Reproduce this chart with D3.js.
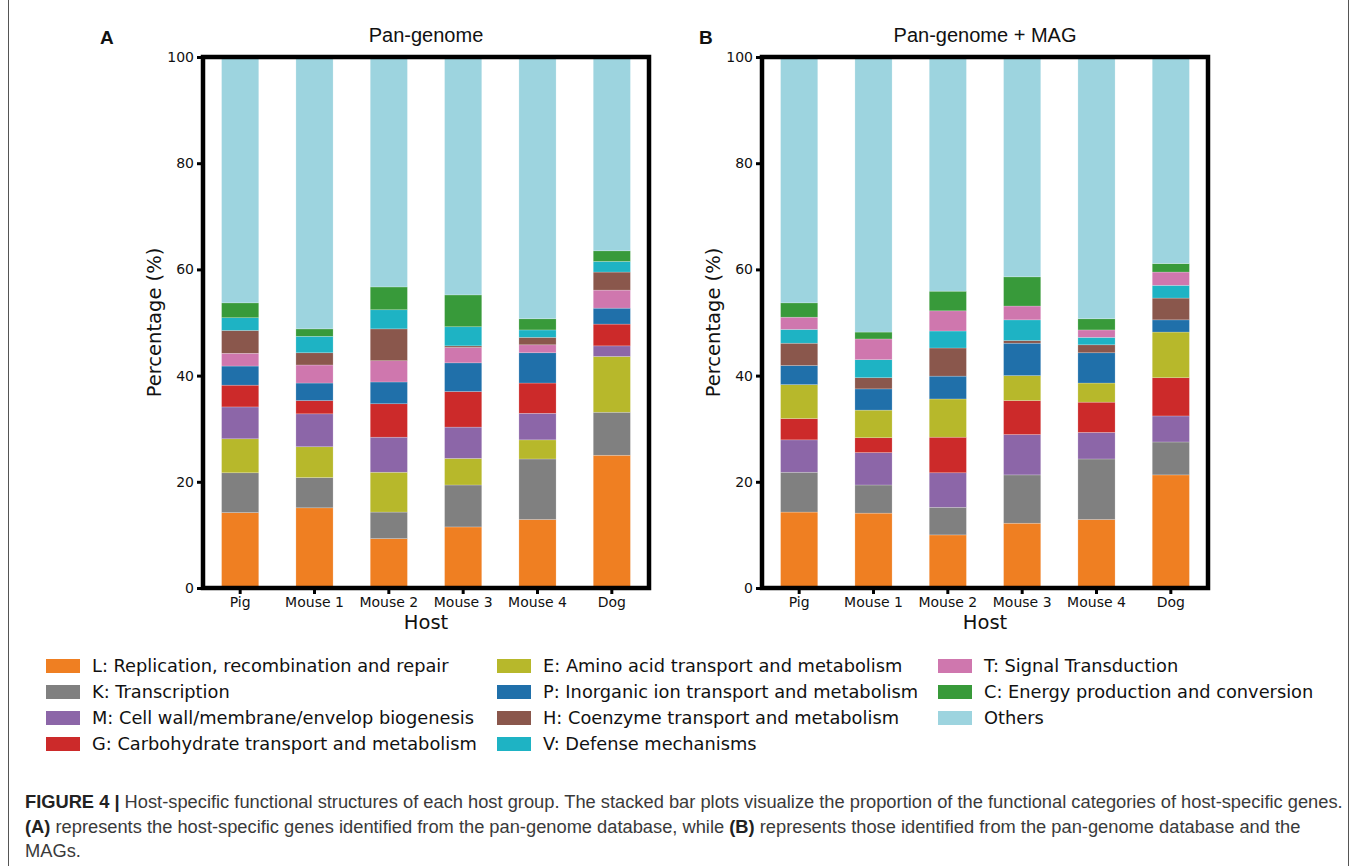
<!DOCTYPE html>
<html>
<head>
<meta charset="utf-8">
<script src="https://cdn.jsdelivr.net/npm/d3@7"></script>
<style>
  body { margin: 0; background: #fff; }
  svg { display: block; }
  .tick-label { font-family: "DejaVu Sans", sans-serif; font-size: 14px; fill: #111; }
  .axis-title { font-family: "DejaVu Sans", sans-serif; font-size: 19.5px; fill: #111; }
  .legend-text { font-family: "DejaVu Sans", sans-serif; font-size: 17.8px; fill: #111; }
  .caption { font-family: "Liberation Sans", Arial, sans-serif; font-size: 18.3px; fill: #3a3a3a; }
</style>
</head>
<body>
<div id="chart"></div>
<script>
// Host groups (x axis)
const hosts = ['Pig', 'Mouse 1', 'Mouse 2', 'Mouse 3', 'Mouse 4', 'Dog'];

// COG categories in legend order
const categories = ['L', 'K', 'M', 'G', 'E', 'P', 'H', 'V', 'T', 'C', 'Others'];
const categoryLabels = [
    'L: Replication, recombination and repair',
    'K: Transcription',
    'M: Cell wall/membrane/envelop biogenesis',
    'G: Carbohydrate transport and metabolism',
    'E: Amino acid transport and metabolism',
    'P: Inorganic ion transport and metabolism',
    'H: Coenzyme transport and metabolism',
    'V: Defense mechanisms',
    'T: Signal Transduction',
    'C: Energy production and conversion',
    'Others'
];
const categoryColors = [
    '#ef7f22', '#808080', '#8c66a8', '#cc2a2a', '#b7b82b',
    '#2070aa', '#8a574c', '#1eb3c4', '#cf77ae', '#389a3a', '#9dd4df'
];

// stacking order (bottom to top) differs between the two panels
const stackOrderA = ['L', 'K', 'E', 'M', 'G', 'P', 'T', 'H', 'V', 'C', 'Others'];
const stackOrderB = ['L', 'K', 'M', 'G', 'E', 'P', 'H', 'V', 'T', 'C', 'Others'];

// Panel A: pan-genome (percent per host, order = hosts)
const panL = [14.2, 15.1, 9.3, 11.5, 12.9, 25.0];
const panK = [7.5, 5.7, 5.0, 7.9, 11.4, 8.1];
const panE = [6.4, 5.8, 7.5, 5.0, 3.6, 10.5];
const panM = [6.0, 6.2, 6.6, 5.9, 5.0, 2.0];
const panG = [4.1, 2.5, 6.3, 6.7, 5.7, 4.1];
const panP = [3.6, 3.3, 4.1, 5.4, 5.7, 3.0];
const panT = [2.4, 3.4, 4.0, 2.9, 1.5, 3.4];
const panH = [4.3, 2.3, 6.0, 0.3, 1.4, 3.4];
const panV = [2.4, 3.1, 3.6, 3.6, 1.4, 2.0];
const panC = [2.8, 1.4, 4.3, 6.0, 2.1, 2.0];
const panOthers = [46.3, 51.2, 43.3, 44.8, 49.3, 36.5];

// Panel B: pan-genome + MAG
const magL = [14.3, 14.1, 10.0, 12.2, 12.9, 21.3];
const magK = [7.5, 5.3, 5.2, 9.1, 11.4, 6.2];
const magM = [6.1, 6.1, 6.5, 7.6, 5.0, 4.9];
const magG = [4.0, 2.8, 6.7, 6.4, 5.7, 7.2];
const magE = [6.4, 5.2, 7.2, 4.7, 3.6, 8.6];
const magP = [3.6, 4.0, 4.3, 6.1, 5.7, 2.3];
const magH = [4.2, 2.1, 5.3, 0.5, 1.5, 4.1];
const magV = [2.6, 3.4, 3.2, 3.9, 1.4, 2.4];
const magT = [2.3, 3.9, 3.8, 2.6, 1.4, 2.5];
const magC = [2.7, 1.3, 3.7, 5.5, 2.1, 1.6];
const magOthers = [46.3, 51.8, 44.1, 41.4, 49.3, 38.9];

const yTicks = [0, 20, 40, 60, 80, 100];

function buildRows(series) {
    return hosts.map((h, i) => {
        const row = { host: h };
        categories.forEach(c => { row[c] = series[c][i]; });
        return row;
    });
}

const rowsA = buildRows({ L: panL, K: panK, M: panM, G: panG, E: panE, P: panP,
    H: panH, V: panV, T: panT, C: panC, Others: panOthers });
const rowsB = buildRows({ L: magL, K: magK, M: magM, G: magG, E: magE, P: magP,
    H: magH, V: magV, T: magT, C: magC, Others: magOthers });

const color = d3.scaleOrdinal().domain(categories).range(categoryColors);

const W = 1357, H = 866;
const svg = d3.select('#chart').append('svg')
    .attr('width', W)
    .attr('height', H);

// figure box border
svg.append('rect')
    .attr('x', 8.5).attr('y', -5)
    .attr('width', 1340).attr('height', H + 10)
    .attr('fill', 'none')
    .attr('stroke', '#555')
    .attr('stroke-width', 1);

const panels = [
    { rows: rowsA, order: stackOrderA, left: 203, right: 649, title: 'Pan-genome', letter: 'A', letterX: 100 },
    { rows: rowsB, order: stackOrderB, left: 762, right: 1208, title: 'Pan-genome + MAG', letter: 'B', letterX: 699 }
];
const plotTop = 57, plotBottom = 588;

panels.forEach(p => {
    const g = svg.append('g');

    const x = d3.scaleBand()
        .domain(hosts)
        .range([p.left, p.right])
        .paddingInner(0.5)
        .paddingOuter(0.25);

    const y = d3.scaleLinear()
        .domain([0, 100])
        .range([plotBottom, plotTop]);

    const stacked = d3.stack().keys(p.order)(p.rows);

    g.append('g')
        .selectAll('g')
        .data(stacked)
        .join('g')
        .attr('fill', d => color(d.key))
        .selectAll('rect')
        .data(d => d)
        .join('rect')
        .attr('x', d => x(d.data.host))
        .attr('width', x.bandwidth())
        .attr('y', d => y(d[1]))
        .attr('height', d => y(d[0]) - y(d[1]))
        .attr('stroke', 'rgba(255,255,255,0.35)')
        .attr('stroke-width', 0.6);

    // frame
    g.append('rect')
        .attr('x', p.left).attr('y', plotTop)
        .attr('width', p.right - p.left)
        .attr('height', plotBottom - plotTop)
        .attr('fill', 'none')
        .attr('stroke', '#000')
        .attr('stroke-width', 4.5);

    // y axis
    const yAxis = g.append('g')
        .attr('transform', `translate(${p.left - 2},0)`)
        .call(d3.axisLeft(y).tickValues(yTicks).tickSize(4).tickPadding(3));
    yAxis.select('.domain').remove();
    yAxis.selectAll('line').attr('stroke', '#000').attr('stroke-width', 3);
    yAxis.selectAll('text').attr('class', 'tick-label').attr('font-size', null).attr('font-family', null);

    // x axis
    const xAxis = g.append('g')
        .attr('transform', `translate(0,${plotBottom + 2})`)
        .call(d3.axisBottom(x).tickSize(4).tickPadding(3));
    xAxis.select('.domain').remove();
    xAxis.selectAll('line').attr('stroke', '#000').attr('stroke-width', 3);
    xAxis.selectAll('text').attr('class', 'tick-label').attr('font-size', null).attr('font-family', null);

    const cx = (p.left + p.right) / 2;
    g.append('text')
        .attr('class', 'axis-title')
        .attr('x', cx).attr('y', 629)
        .attr('text-anchor', 'middle')
        .text('Host');

    g.append('text')
        .attr('class', 'axis-title')
        .attr('transform', `translate(${p.left - 42},${(plotTop + plotBottom) / 2}) rotate(-90)`)
        .attr('text-anchor', 'middle')
        .text('Percentage (%)');

    g.append('text')
        .attr('x', cx).attr('y', 42)
        .attr('text-anchor', 'middle')
        .attr('font-family', '"Liberation Sans", Arial, sans-serif')
        .attr('font-size', 20)
        .attr('fill', '#111')
        .text(p.title);

    g.append('text')
        .attr('x', p.letterX).attr('y', 44)
        .attr('font-family', '"Liberation Sans", Arial, sans-serif')
        .attr('font-size', 19)
        .attr('font-weight', 'bold')
        .attr('fill', '#111')
        .text(p.letter);
});

// legend: 3 columns, filled column-wise (4,4,3)
const legendCols = [46, 497, 938];
const legendRows = [666, 692, 718, 744];
const legend = svg.append('g');
categories.forEach((c, i) => {
    const col = Math.floor(i / 4), row = i % 4;
    const lg = legend.append('g')
        .attr('transform', `translate(${legendCols[col]},${legendRows[row]})`);
    lg.append('rect')
        .attr('x', 0).attr('y', -7)
        .attr('width', 34).attr('height', 14)
        .attr('fill', color(c));
    lg.append('text')
        .attr('class', 'legend-text')
        .attr('x', 46).attr('y', 0)
        .attr('dy', '0.35em')
        .text(categoryLabels[i]);
});

// caption
const caption = svg.append('g').attr('class', 'caption');
const line1 = caption.append('text').attr('x', 25).attr('y', 808);
line1.append('tspan').attr('font-weight', 'bold').attr('fill', '#222').text('FIGURE 4 | ');
line1.append('tspan').text('Host-specific functional structures of each host group. The stacked bar plots visualize the proportion of the functional categories of host-specific genes.');
const line2 = caption.append('text').attr('x', 25).attr('y', 833);
line2.append('tspan').attr('font-weight', 'bold').attr('fill', '#222').text('(A)');
line2.append('tspan').text(' represents the host-specific genes identified from the pan-genome database, while ');
line2.append('tspan').attr('font-weight', 'bold').attr('fill', '#222').text('(B)');
line2.append('tspan').text(' represents those identified from the pan-genome database and the');
caption.append('text').attr('x', 25).attr('y', 857).text('MAGs.');
</script>
</body>
</html>
